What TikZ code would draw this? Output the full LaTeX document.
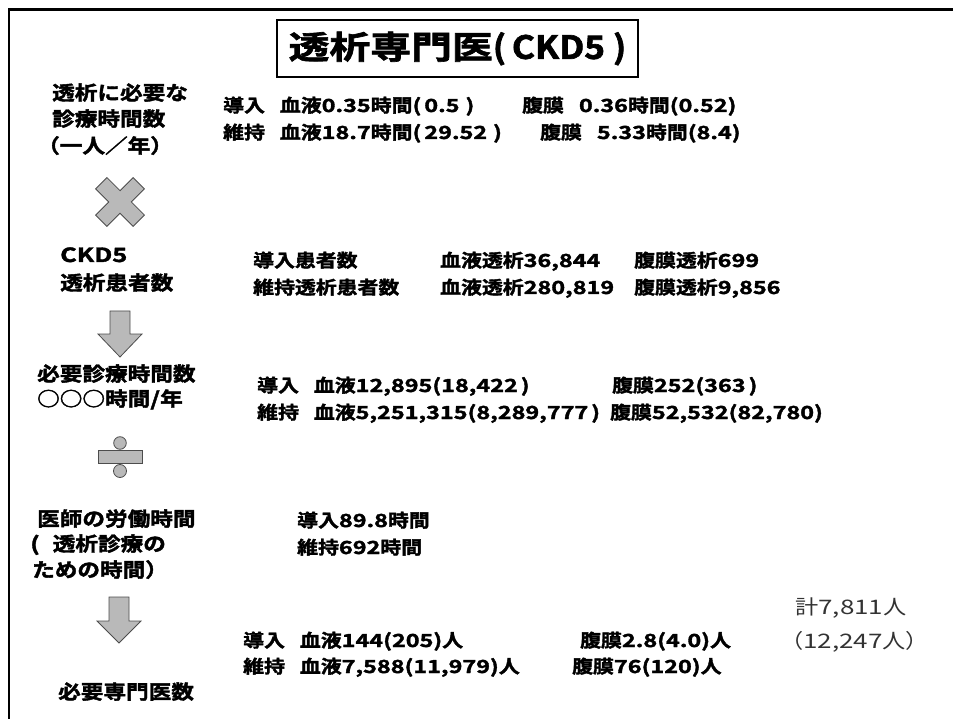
\documentclass[tikz,border=0pt]{standalone}
\usepackage{fontspec}
\newfontfamily\jbc{Noto Sans CJK JP Bold}[FakeStretch=1.16, FakeBold=2]
\newfontfamily\jbl{Noto Sans CJK JP Bold}[FakeBold=2]
\newfontfamily\jblw{Noto Sans CJK JP Bold}[FakeStretch=1.3, FakeBold=2]
\newfontfamily\jrc{Noto Sans CJK JP}[FakeStretch=1.16]
\newfontfamily\jrl{Noto Sans CJK JP}[FakeStretch=1.3]
% automatic font switch between CJK and Latin characters
\XeTeXinterchartokenstate=1
\newXeTeXintercharclass\CJKcls
\count255="2E80
\loop \XeTeXcharclass\count255=\CJKcls \advance\count255 by 1 \ifnum\count255<"A000 \repeat
\count255="FF00
\loop \XeTeXcharclass\count255=\CJKcls \advance\count255 by 1 \ifnum\count255<"FF60 \repeat
\XeTeXcharclass"25CB=\CJKcls
\def\cjkf{\jbc}\def\latf{\jbl}
\XeTeXinterchartoks 0 \CJKcls = {\cjkf}
\XeTeXinterchartoks 4095 \CJKcls = {\cjkf}
\XeTeXinterchartoks \CJKcls 0 = {\latf}
\XeTeXinterchartoks 4095 0 = {\latf}
\tikzset{
 lab/.style={anchor=base west, inner sep=0pt, font={\def\cjkf{\jbc}\def\latf{\jblw}\fontsize{19.5}{20}\selectfont\latf}},
 val/.style={anchor=base west, inner sep=0pt, font={\def\cjkf{\jbc}\def\latf{\jblw}\fontsize{18}{19}\selectfont\latf}},
 tot/.style={anchor=base west, inner sep=0pt, font={\def\cjkf{\jrc}\def\latf{\jrl}\fontsize{20}{21}\selectfont\latf}, text=black!80},
 sym/.style={fill=gray!55, draw=black!70, line width=0.8pt},
 frameline/.style={line width=2.6pt, black},
}
\newcommand{\gap}{\hspace{15pt}}
\begin{document}
\begin{tikzpicture}[x=1pt,y=-1pt]
\useasboundingbox (0,0) rectangle (953,719);
% frame (top and left edges)
\coordinate (fr1) at (953,9.5);
\coordinate (fr2) at (9,9.5);
\coordinate (fr3) at (9,719);
\draw[frameline] (fr1) -- (fr2) -- (fr3);
% title
\node[draw, line width=1.4pt, minimum width=361pt, minimum height=57pt, inner sep=0pt,
      font={\def\cjkf{\jbc}\def\latf{\jbl}\fontsize{32}{32}\selectfont\latf}] (title) at (457.5,48.5)
      {\scalebox{1.1}[1]{透析専門医(\,CKD5\ )}};
% left column
\node[lab] (l1a) at (52,100) {透析に必要な};
\node[lab] (l1b) at (52,126) {診療時間数};
\node[lab] (l1c) at (37,153) {（一人／年）};
\begin{scope}[shift={(120,202)},rotate=45]
\draw[sym] (-8,-26.5) -- (8,-26.5) -- (8,-8) -- (26.5,-8) -- (26.5,8) -- (8,8) -- (8,26.5)
  -- (-8,26.5) -- (-8,8) -- (-26.5,8) -- (-26.5,-8) -- (-8,-8) -- cycle;
\end{scope}
\node[lab] (l2a) at (60,262) {CKD5};
\node[lab] (l2b) at (60,290) {透析患者数};
\draw[sym] (110,311) -- (130,311) -- (130,334) -- (142,334) -- (120,357) -- (98,334) -- (110,334) -- cycle;
\node[lab] (l3a) at (37,381) {必要診療時間数};
\node[lab] (l3b) at (37,406) {○○○時間/年};
\draw[sym] (120,443) circle (6.3);
\draw[sym] (120,471) circle (6.5);
\draw[sym] (98,450) rectangle (142,463);
\node[lab] (l4a) at (37,526) {医師の労働時間};
\node[lab] (l4b) at (30,551) {(\hspace{13pt}透析診療の};
\node[lab] (l4c) at (32,577) {ための時間）};
\draw[sym] (109,597) -- (129,597) -- (129,621) -- (141,621) -- (119,643) -- (97,621) -- (109,621) -- cycle;
\node[lab] (l5) at (58,699) {必要専門医数};
% row 1
\node[val] (r1a) at (223,112) {導入\gap 血液0.35時間(\,0.5\hspace{6pt})};
\node[val] (r1b) at (522,112) {腹膜\gap 0.36時間(0.52)};
\node[val] (r1c) at (223,139) {維持\gap 血液18.7時間(\,29.52\hspace{6pt})};
\node[val] (r1d) at (540,139) {腹膜\gap 5.33時間(8.4)};
% row 2
\node[val] (r2a) at (253,267) {導入患者数};
\node[val] (r2b) at (440,267) {血液透析36,844};
\node[val] (r2c) at (634,267) {腹膜透析699};
\node[val] (r2d) at (253,294) {維持透析患者数};
\node[val] (r2e) at (440,294) {血液透析280,819};
\node[val] (r2f) at (634,294) {腹膜透析9,856};
% row 3
\node[val] (r3a) at (257,392) {導入\gap 血液12,895(18,422\,)};
\node[val] (r3b) at (612,392) {腹膜252(363\,)};
\node[val] (r3c) at (257,419) {維持\gap 血液5,251,315(8,289,777\,)};
\node[val] (r3d) at (610,419) {腹膜52,532(82,780)};
% row 4
\node[val] (r4a) at (297,527) {導入89.8時間};
\node[val] (r4b) at (297,554) {維持692時間};
% row 5
\node[val] (r5a) at (243,647) {導入\gap 血液144(205)人};
\node[val] (r5b) at (580,647) {腹膜2.8(4.0)人};
\node[val] (r5c) at (243,673) {維持\gap 血液7,588(11,979)人};
\node[val] (r5d) at (572,673) {腹膜76(120)人};
% totals
\node[tot] (t1) at (795,614) {計7,811人};
\node[tot] (t2) at (780,648) {（12,247人）};
\end{tikzpicture}
\end{document}
